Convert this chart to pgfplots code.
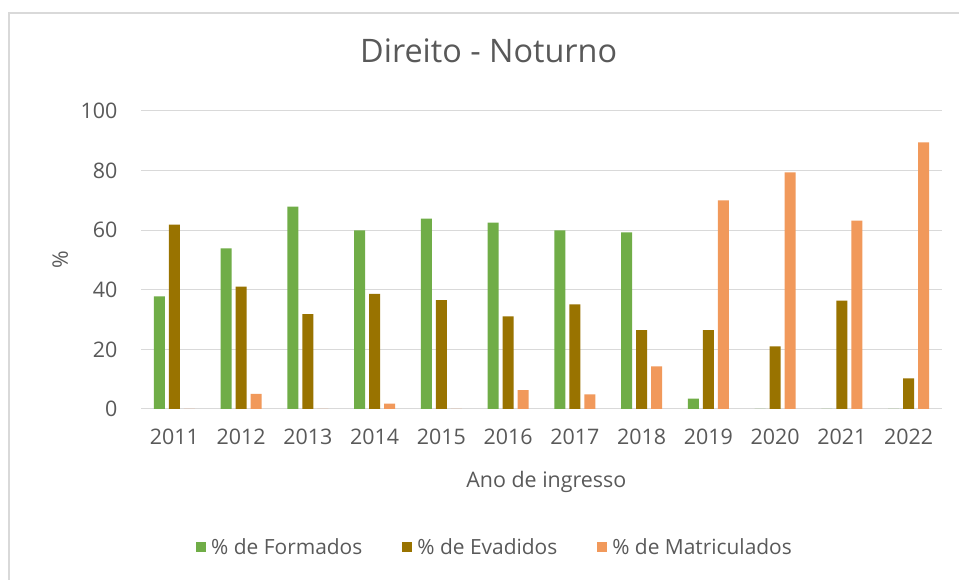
\documentclass[border=0pt]{standalone}
\usepackage{fontspec}
\setmainfont{Open Sans}
\usepackage{pgfplots}
\pgfplotsset{compat=1.18}
\definecolor{cgreen}{HTML}{70AD47}
\definecolor{cbrown}{HTML}{997300}
\definecolor{corange}{HTML}{F1995B}
\definecolor{ctext}{HTML}{595959}
\definecolor{cgrid}{HTML}{D9D9D9}
\begin{document}
\begin{tikzpicture}[x=1bp,y=1bp]
\path[use as bounding box, fill=white] (0,0) rectangle (959,580);
\draw[color=cgrid, line width=1.2bp] (9,0) -- (9,567) -- (959,567);
\begin{axis}[
  at={(141bp,171bp)}, anchor=south west,
  scale only axis, width=801bp, height=298bp,
  xmin=-0.5, xmax=11.5, ymin=0, ymax=100,
  ytick={0,20,40,60,80,100},
  xtick={0,1,2,3,4,5,6,7,8,9,10,11},
  xticklabels={2011,2012,2013,2014,2015,2016,2017,2018,2019,2020,2021,2022},
  axis line style={draw=none},
  tick style={draw=none},
  ymajorgrids, grid style={cgrid, line width=1bp},
  /pgf/number format/assume math mode=true,
  tick label style={font=\fontsize{21.5}{25}\selectfont, text=ctext},
  x tick label style={yshift=-12bp},
  y tick label style={xshift=-20bp},
  ybar, bar width=0.165,
  title={Direito - Noturno},
  title style={font=\fontsize{32.5}{36}\selectfont, text=ctext, at={(axis description cs:0.434,1.181)}, anchor=center},
  xlabel={Ano de ingresso},
  xlabel style={font=\fontsize{21.5}{25}\selectfont, text=ctext, at={(axis description cs:0.506,-0.245)}, anchor=center},
  ylabel={\%},
  ylabel style={font=\fontsize{21.5}{25}\selectfont, text=ctext, at={(axis description cs:-0.101,0.5)}, anchor=center},
  legend columns=3,
  legend style={draw=none, fill=none, font=\fontsize{21}{25}\selectfont, text=ctext,
    at={(axis description cs:0.442,-0.463)}, anchor=center,
    /tikz/every even column/.append style={column sep=38bp},
    /tikz/every odd column/.append style={column sep=3bp}},
  legend image code/.code={\fill[#1] (0bp,-5bp) rectangle (10bp,5bp);},
]
\addplot[fill=cgreen, draw=none, bar shift=-0.225] coordinates {
(0,37.8) (1,53.9) (2,67.9) (3,59.9) (4,63.9) (5,62.5) (6,59.9) (7,59.3) (8,3.5) (9,0) (10,0) (11,0)};
\addplot[fill=cbrown, draw=none, bar shift=0] coordinates {
(0,61.9) (1,41.1) (2,31.8) (3,38.6) (4,36.5) (5,31.1) (6,35.1) (7,26.5) (8,26.5) (9,21.0) (10,36.4) (11,10.3)};
\addplot[fill=corange, draw=none, bar shift=0.225] coordinates {
(0,0) (1,5.1) (2,0) (3,1.8) (4,0) (5,6.3) (6,4.9) (7,14.3) (8,70.0) (9,79.4) (10,63.2) (11,89.5)};
\legend{\% de Formados, \% de Evadidos, \% de Matriculados}
\end{axis}
\end{tikzpicture}
\end{document}
